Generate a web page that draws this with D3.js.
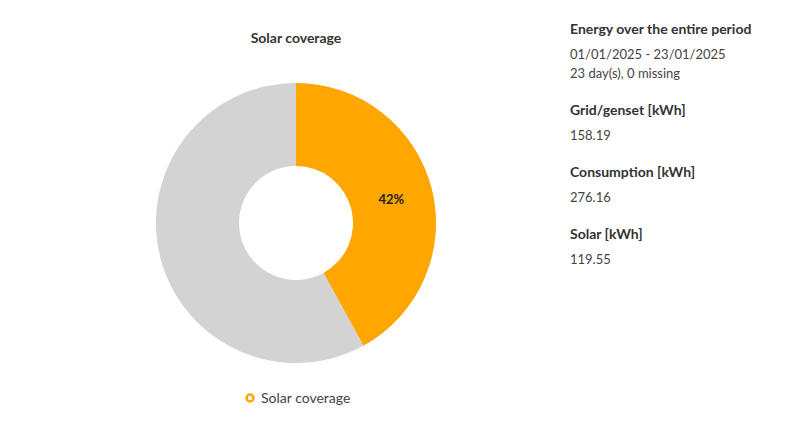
<!DOCTYPE html>
<html><head><meta charset="utf-8">
<script src="https://cdn.jsdelivr.net/npm/d3@7"></script>
<style>body{margin:0;background:#fff;font-family:Lato,"Noto Sans",sans-serif;}</style>
</head><body><svg width="810" height="432"></svg>
<script>
// chart values
const categories = ["Solar coverage", "Rest"];
const shares = [42, 58];
const colors = ["#ffa600", "#d3d3d3"];
const infoTitles = ["Energy over the entire period", "Grid/genset [kWh]", "Consumption [kWh]", "Solar [kWh]"];
const infoValues = [["01/01/2025 - 23/01/2025", "23 day(s), 0 missing"], ["158.19"], ["276.16"], ["119.55"]];

const svg = d3.select("svg");
const cx = 296, cy = 223, outerR = 140, innerR = 57;

svg.append("text").attr("x", cx).attr("y", 43).attr("text-anchor", "middle")
  .attr("font-size", 14).attr("font-weight", "bold").attr("fill", "#333").text("Solar coverage");

const pie = d3.pie().sort(null)(shares);
const arc = d3.arc().innerRadius(innerR).outerRadius(outerR);
const g = svg.append("g").attr("transform", `translate(${cx},${cy})`);
g.selectAll("path").data(pie).enter().append("path")
  .attr("d", arc).attr("fill", (d, i) => colors[i]);

// label for the solar slice
const labelArc = d3.arc().innerRadius((innerR + outerR) / 2).outerRadius((innerR + outerR) / 2);
const c = labelArc.centroid(pie[0]);
g.append("text").attr("x", c[0]).attr("y", c[1] + 5).attr("text-anchor", "middle")
  .attr("font-size", 13).attr("font-weight", "bold").attr("fill", "#222").text(shares[0] + "%");

// legend
svg.append("circle").attr("cx", 250).attr("cy", 398).attr("r", 3.5)
  .attr("fill", "none").attr("stroke", colors[0]).attr("stroke-width", 2.5);
svg.append("text").attr("x", 261).attr("y", 403).attr("font-size", 14).attr("fill", "#444").text(categories[0]);

// info panel
let y = 34;
infoTitles.forEach((t, i) => {
  svg.append("text").attr("x", 570).attr("y", y).attr("font-size", 14).attr("font-weight", "bold").attr("fill", "#333").text(t);
  y += 25;
  infoValues[i].forEach(v => {
    svg.append("text").attr("x", 570).attr("y", y).attr("font-size", 13).attr("fill", "#444").text(v);
    y += 19;
  });
  y += 18;
});
</script></body></html>
